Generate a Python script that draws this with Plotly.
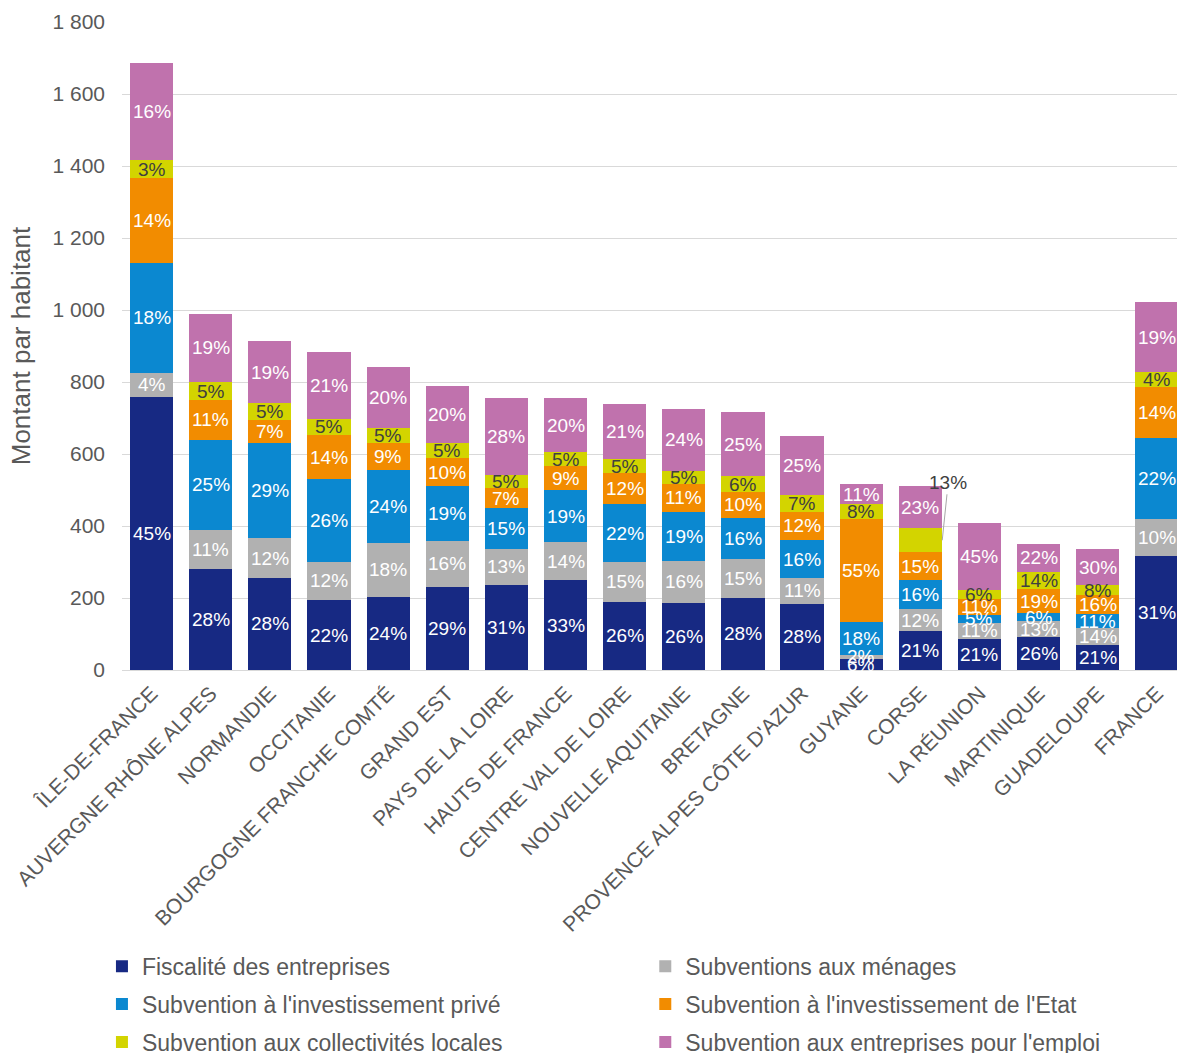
import plotly.graph_objects as go

# Régions (ordre d'affichage)
regions = [
    "ÎLE-DE-FRANCE", "AUVERGNE RHÔNE ALPES", "NORMANDIE", "OCCITANIE",
    "BOURGOGNE FRANCHE COMTÉ", "GRAND EST", "PAYS DE LA LOIRE", "HAUTS DE FRANCE",
    "CENTRE VAL DE LOIRE", "NOUVELLE AQUITAINE", "BRETAGNE",
    "PROVENCE ALPES CÔTE D'AZUR", "GUYANE", "CORSE", "LA RÉUNION",
    "MARTINIQUE", "GUADELOUPE", "FRANCE",
]

# Montant total par habitant (€)
totals = [1686, 1000, 914, 883, 842, 797, 764, 756, 731, 719, 717, 656,
          517, 511, 412, 350, 336, 1022]

# Part de chaque poste dans le total (%)
pct_fiscalite = [45, 28, 28, 22, 24, 29, 31, 33, 26, 26, 28, 28, 6, 21, 21, 26, 21, 31]
pct_menages = [4, 11, 12, 12, 18, 16, 13, 14, 15, 16, 15, 11, 2, 12, 11, 13, 14, 10]
pct_invest_prive = [18, 25, 29, 26, 24, 19, 15, 19, 22, 19, 16, 16, 18, 16, 5, 6, 11, 22]
pct_invest_etat = [14, 11, 7, 14, 9, 10, 7, 9, 12, 11, 10, 12, 55, 15, 11, 19, 16, 14]
pct_collectivites = [3, 5, 5, 5, 5, 5, 5, 5, 5, 5, 6, 7, 8, 13, 6, 14, 8, 4]
pct_emploi = [16, 19, 19, 21, 20, 20, 28, 20, 21, 24, 25, 25, 11, 23, 45, 22, 30, 19]

series_names = [
    "Fiscalité des entreprises",
    "Subventions aux ménages",
    "Subvention à l'investissement privé",
    "Subvention à l'investissement de l'Etat",
    "Subvention aux collectivités locales",
    "Subvention aux entreprises pour l'emploi",
]
series_pcts = [pct_fiscalite, pct_menages, pct_invest_prive,
               pct_invest_etat, pct_collectivites, pct_emploi]

y_tick_values = [0, 200, 400, 600, 800, 1000, 1200, 1400, 1600, 1800]
y_tick_labels = ["0", "200", "400", "600", "800", "1 000", "1 200", "1 400", "1 600", "1 800"]

colors = ["#172983", "#b1b1b1", "#0b88d0", "#f28c00", "#d3d400", "#c072ad"]
label_colors = ["white", "white", "white", "white", "#404040", "white"]

# Libellé affiché hors barre avec un trait de rappel (segment trop étroit)
callout = {("CORSE", 4)}

FONT = "Liberation Sans, Arial, sans-serif"
GREY_TEXT = "#595959"

fig = go.Figure()
annotations = []
base = [0.0] * len(regions)

for k, (name, pcts) in enumerate(zip(series_names, series_pcts)):
    values = [t * p / 100 for t, p in zip(totals, pcts)]
    # Légende en deux colonnes : séries paires à gauche, impaires à droite
    fig.add_trace(go.Bar(
        name=name, x=regions, y=values,
        marker=dict(color=colors[k], line=dict(width=0)),
        legend="legend" if k % 2 == 0 else "legend2",
        legendgroup=f"g{k}",
        hoverinfo="x+y+name",
    ))
    for i, (region, v, p) in enumerate(zip(regions, values, pcts)):
        mid = base[i] + v / 2
        if (region, k) in callout:
            annotations.append(dict(
                x=i + 0.37, y=mid, xref="x", yref="y",
                text=f"{p}%", showarrow=True, arrowhead=0, arrowwidth=1,
                arrowcolor="#a6a6a6", ax=6, ay=-58, standoff=0,
                font=dict(family=FONT, size=19, color="#404040"),
            ))
        else:
            annotations.append(dict(
                x=region, y=mid, xref="x", yref="y",
                text=f"{p}%", showarrow=False,
                font=dict(family=FONT, size=19, color=label_colors[k]),
            ))
        base[i] += v

legend_style = dict(
    orientation="v", yanchor="top", xanchor="left",
    font=dict(family=FONT, size=23, color=GREY_TEXT),
    tracegroupgap=5, traceorder="grouped",
    bgcolor="rgba(0,0,0,0)", borderwidth=0,
)

fig.update_layout(
    barmode="stack",
    bargap=0.27,
    width=1177, height=1053,
    margin=dict(l=122, r=0, t=22, b=383, autoexpand=False),
    paper_bgcolor="white", plot_bgcolor="white",
    font=dict(family=FONT, color=GREY_TEXT),
    annotations=annotations,
    showlegend=True,
    legend=dict(x=-0.019, y=-0.424, **legend_style),
    legend2=dict(x=0.496, y=-0.424, **legend_style),
    xaxis=dict(
        range=[-0.5, 17.34],
        automargin=False,
        tickangle=-45,
        tickfont=dict(family=FONT, size=21, color=GREY_TEXT),
        showgrid=False, showline=True, linecolor="#d9d9d9", linewidth=1,
        ticks="", ticklabelstandoff=2,
    ),
    yaxis=dict(
        range=[0, 1800],
        automargin=False,
        tickvals=y_tick_values, ticktext=y_tick_labels,
        tickfont=dict(family=FONT, size=21, color=GREY_TEXT),
        showgrid=True, gridcolor="#d9d9d9", gridwidth=1,
        zeroline=False, showline=False, ticks="",
        ticklabelstandoff=16,
        title=dict(text="Montant par habitant", standoff=14,
                   font=dict(family=FONT, size=26, color=GREY_TEXT)),
    ),
)

fig.write_html("out.html")
